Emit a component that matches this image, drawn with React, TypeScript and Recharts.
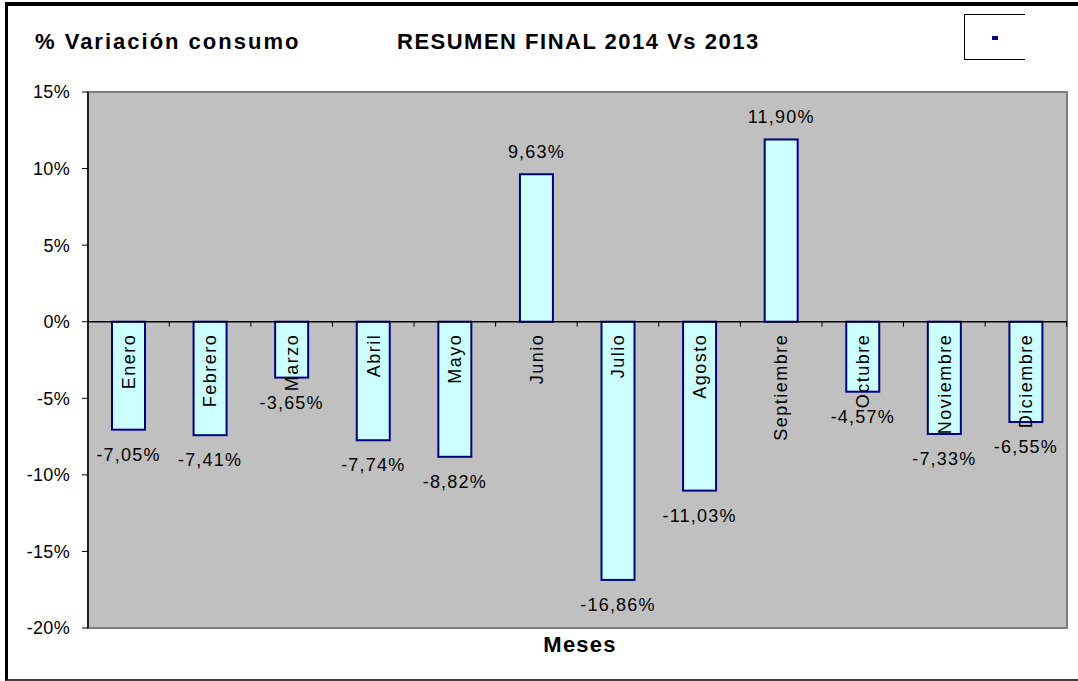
import React from 'react';
import { BarChart, Bar, XAxis, YAxis, ReferenceArea, ReferenceLine, LabelList } from 'recharts';

const months = ['Enero', 'Febrero', 'Marzo', 'Abril', 'Mayo', 'Junio', 'Julio', 'Agosto', 'Septiembre', 'Octubre', 'Noviembre', 'Diciembre'];
const variation = [-7.05, -7.41, -3.65, -7.74, -8.82, 9.63, -16.86, -11.03, 11.9, -4.57, -7.33, -6.55];
const yTicks = [15, 10, 5, 0, -5, -10, -15, -20];

const data = months.map((name, i) => ({ name, value: variation[i] }));

const W = 1078;
const H = 681;
const margin = { top: 92, right: 11, bottom: 53, left: 8 };
const Y_AXIS_W = 80;
const plotW = W - margin.left - margin.right - Y_AXIS_W;
const band = plotW / months.length;
const FONT = '"Liberation Sans", Arial, sans-serif';

const fmt = (v: number) => `${v.toFixed(2).replace('.', ',')}%`;

const BarShape = (props: any) => {
  const { x, y, width, height, payload } = props;
  const top = Math.min(y, y + height);
  const h = Math.abs(height);
  const zero = payload.value >= 0 ? top + h : top;
  const tickX = x + width / 2 + band / 2;
  return (
    <g>
      <rect x={x} y={top} width={width} height={h} fill="#ccffff" stroke="#000080" strokeWidth={2} />
      <line x1={tickX} x2={tickX} y1={zero} y2={zero + 5} stroke="#000" strokeWidth={1} />
    </g>
  );
};

const ValueLabel = (props: any) => {
  const { x, y, width, height, value } = props;
  const top = Math.min(y, y + height);
  const bottom = Math.max(y, y + height);
  const ty = value >= 0 ? top - 16 : bottom + 31;
  return (
    <text x={x + width / 2} y={ty} textAnchor="middle" fill="#000" fontSize={18} fontFamily={FONT} letterSpacing={1.2}>
      {fmt(value)}
    </text>
  );
};

const MonthLabel = (props: any) => {
  const { x, y, width, height, value, index } = props;
  const top = Math.min(y, y + height);
  const bottom = Math.max(y, y + height);
  const zero = variation[index] >= 0 ? bottom : top;
  const cx = x + width / 2;
  const ty = zero + 12;
  return (
    <text
      x={cx}
      y={ty}
      transform={`rotate(-90 ${cx} ${ty})`}
      textAnchor="end"
      dy="0.35em"
      fill="#000"
      fontSize={18}
      fontFamily={FONT}
      letterSpacing={1.5}
    >
      {value}
    </text>
  );
};

export default function App() {
  return (
    <div style={{ position: 'relative', width: W, height: H, overflow: 'hidden', background: '#fff', fontFamily: FONT }}>
      <style>{'body{margin:0}'}</style>
      <div
        style={{
          position: 'absolute',
          left: 5,
          top: 2,
          width: W - 5,
          height: 673,
          borderTop: '4px solid #000',
          borderLeft: '3px solid #000',
          borderBottom: '2px solid #404040',
        }}
      />
      <div style={{ position: 'absolute', left: 35, top: 29, fontSize: 22, fontWeight: 'bold', letterSpacing: 2, whiteSpace: 'nowrap' }}>
        % Variación consumo
      </div>
      <div style={{ position: 'absolute', left: 397, top: 29, fontSize: 22, fontWeight: 'bold', letterSpacing: 1.5, whiteSpace: 'nowrap' }}>
        RESUMEN FINAL 2014 Vs 2013
      </div>
      <div
        style={{
          position: 'absolute',
          left: 964,
          top: 14,
          width: 60,
          height: 44,
          borderTop: '1.5px solid #000',
          borderLeft: '1.5px solid #000',
          borderBottom: '1.5px solid #000',
        }}
      >
        <div style={{ position: 'absolute', left: 27, top: 21, width: 6, height: 4, background: '#000080' }} />
      </div>
      <div style={{ position: 'absolute', left: 0, top: 0 }}>
        <BarChart width={W} height={H} data={data} margin={margin} barSize={33}>
          <XAxis dataKey="name" hide />
          <YAxis
            width={Y_AXIS_W}
            domain={[-20, 15]}
            ticks={yTicks}
            interval={0}
            tickFormatter={(v: number) => `${v}%`}
            axisLine={{ stroke: '#000', strokeWidth: 1.5 }}
            tickLine={{ stroke: '#000' }}
            tickSize={6}
            tickMargin={12}
            tick={{ fill: '#000', fontSize: 18, fontFamily: FONT, letterSpacing: 0.3 }}
          />
          <ReferenceArea y1={-20} y2={15} fill="#c0c0c0" fillOpacity={1} stroke="#808080" strokeWidth={2} />
          <ReferenceLine y={0} stroke="#000" strokeWidth={1.5} />
          <Bar dataKey="value" shape={<BarShape />} isAnimationActive={false}>
            <LabelList dataKey="value" content={<ValueLabel />} />
            <LabelList dataKey="name" content={<MonthLabel />} />
          </Bar>
        </BarChart>
      </div>
      <div style={{ position: 'absolute', left: 0, width: W, top: 632, textAlign: 'center', paddingLeft: 82, boxSizing: 'border-box', fontSize: 22, fontWeight: 'bold', letterSpacing: 1.2 }}>
        Meses
      </div>
    </div>
  );
}
